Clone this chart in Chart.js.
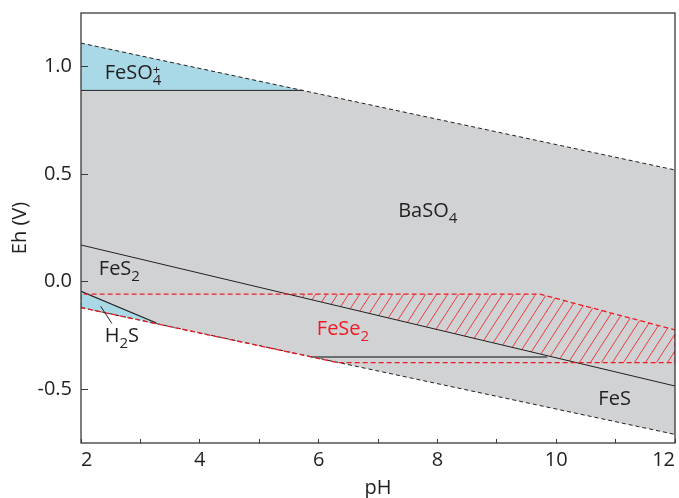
<!DOCTYPE html>
<html>
<head>
<meta charset="utf-8">
<script src="https://cdn.jsdelivr.net/npm/chart.js@4.4.1/dist/chart.umd.min.js"></script>
<style>
  html, body { margin: 0; padding: 0; background: #fff; }
  #wrap { width: 679px; height: 498px; }
</style>
</head>
<body>
<div id="wrap"><canvas id="canvasEh"></canvas></div>
<script>
// boundaries, [pH, Eh (V)]
const waterUpper = [[2, 1.11], [12, 0.52]];
const waterLower = [[2, -0.12], [12, -0.71]];
const feso4Line = [[2, 0.89], [5.73, 0.89]];
const fes2FesLine = [[2, 0.171], [12, -0.485]];
const h2sLine = [[2, -0.045], [3.27, -0.192]];
const fesLine = [[5.87, -0.35], [9.85, -0.35]];
const fese2Line = [[2, -0.12], [2, -0.058], [9.73, -0.058], [12, -0.224], [12, -0.376], [6.32, -0.376], [2, -0.12]];
const h2sLeader = [[2.33, -0.114], [2.52, -0.194]];

const baso4Area = [[2, 1.11], [12, 0.52], [12, -0.71], [2, -0.12]];
const feso4Area = [[2, 1.11], [5.73, 0.89], [2, 0.89]];
const h2sArea = [[2, -0.045], [3.27, -0.192], [2, -0.12]];
const fese2Hatch = [[5.49, -0.058], [9.73, -0.058], [12, -0.224], [12, -0.376], [10.34, -0.376]];

const phTicks = [2, 3, 4, 5, 6, 7, 8, 9, 10, 11, 12];
const ehTicks = [-0.5, 0, 0.5, 1.0];

const phaseNames = ["FeSO4+", "BaSO4", "FeS2", "H2S", "FeSe2", "FeS"];
const phasePH = [2.40, 7.34, 2.30, 2.40, 5.97, 10.71];
const phaseEh = [0.941, 0.303, 0.031, -0.282, -0.248, -0.573];
const phaseColors = ["#231f20", "#231f20", "#231f20", "#231f20", "#ed1c24", "#231f20"];

const FONT = "'Open Sans', sans-serif";
const INK = "#231f20";
Chart.defaults.font.family = FONT;
Chart.defaults.font.size = 20;
Chart.defaults.color = INK;

const pts = (arr) => arr.map(([x, y]) => ({x, y}));

const makeHatch = () => {
  const c = document.createElement("canvas");
  c.width = 11;
  c.height = 17;
  const g = c.getContext("2d");
  g.strokeStyle = "#ee3a3f";
  g.lineWidth = 1;
  g.beginPath();
  for (let k = -1; k <= 1; k++) {
    g.moveTo(k * 11, 17);
    g.lineTo(k * 11 + 11, 0);
  }
  g.stroke();
  return g.createPattern(c, "repeat");
}

// chemical formula: digits as subscripts, "+" stacked above the last subscript
const drawFormula = (ctx, text, px, py, color) => {
  ctx.fillStyle = color;
  ctx.textAlign = "left";
  ctx.textBaseline = "alphabetic";
  let cx = px;
  let subX = px;
  const runs = text.match(/[A-Za-z]+|\d|\+/g);
  for (const r of runs) {
    if (/\d/.test(r)) {
      ctx.font = "15px " + FONT;
      subX = cx;
      ctx.fillText(r, cx, py + 6);
      cx += ctx.measureText(r).width;
    } else if (r === "+") {
      ctx.font = "13px " + FONT;
      ctx.fillText(r, subX, py - 5);
    } else {
      ctx.font = "20px " + FONT;
      ctx.fillText(r, cx, py);
      cx += ctx.measureText(r).width;
    }
  }
}

const phasePlugin = {
  id: "phases",
  afterDatasetsDraw(chart) {
    const {ctx, chartArea: a, scales: {x, y}} = chart;
    ctx.save();
    ctx.strokeStyle = "#3a3a3a";
    ctx.lineWidth = 1.3;
    ctx.strokeRect(a.left, a.top, a.right - a.left, a.bottom - a.top);
    phaseNames.forEach((name, i) => {
      drawFormula(ctx, name, x.getPixelForValue(phasePH[i]), y.getPixelForValue(phaseEh[i]), phaseColors[i]);
    });
    ctx.restore();
  }
};

const line = (data, color, width, dash, order) => ({
  data: pts(data),
  borderColor: color,
  borderWidth: width,
  borderDash: dash,
  showLine: true,
  fill: false,
  order: order
});

const area = (data, color, order) => ({
  data: pts(data),
  borderColor: "rgba(0,0,0,0)",
  borderWidth: 0,
  backgroundColor: color,
  showLine: true,
  fill: "shape",
  order: order
});

const canvasEh = document.getElementById("canvasEh").getContext("2d");

const plotEh = new Chart(canvasEh, {
  type: "scatter",
  data: {
    datasets: [
      line(h2sLeader, INK, 1, [], 1),
      line(fese2Line, "#ed1c24", 1.3, [5, 3], 2),
      line(fesLine, "#6d6e71", 2, [], 3),
      line(h2sLine, INK, 1.2, [], 3),
      line(fes2FesLine, INK, 1, [], 3),
      line(feso4Line, INK, 1, [], 3),
      line(waterUpper, INK, 1, [4, 3], 4),
      line(waterLower, INK, 1, [4, 3], 4),
      area(fese2Hatch, makeHatch(), 7),
      area(h2sArea, "#a9d9e6", 8),
      area(feso4Area, "#a9d9e6", 8),
      area(baso4Area, "#d1d2d4", 9),
    ]
  },
  options: {
    animation: false,
    responsive: true,
    maintainAspectRatio: false,
    layout: { padding: { top: 13, right: 4, left: 0, bottom: 0 } },
    elements: { point: { radius: 0, hoverRadius: 0 }, line: { tension: 0 } },
    plugins: { legend: { display: false }, tooltip: { enabled: false } },
    scales: {
      x: {
        type: "linear",
        min: 2,
        max: 12,
        afterBuildTicks: (s) => { s.ticks = phTicks.map(v => ({value: v})); },
        afterFit: (s) => { s.height = 55; s.paddingLeft = 0; s.paddingRight = 0; },
        ticks: {
          autoSkip: false,
          maxRotation: 0,
          align: "inner",
          padding: 9,
          callback: (v) => (v % 2 === 0 ? String(v) : "")
        },
        grid: { drawOnChartArea: false, drawTicks: true, tickLength: -4, color: "#3a3a3a", lineWidth: 1, z: 1 },
        border: { display: false },
        title: { display: true, text: "pH", font: { size: 20, lineHeight: 1 }, padding: { top: 0, bottom: 0 } }
      },
      y: {
        type: "linear",
        min: -0.75,
        max: 1.25,
        afterBuildTicks: (s) => { s.ticks = ehTicks.map(v => ({value: v})); },
        afterFit: (s) => { s.width = 81; s.paddingTop = 0; s.paddingBottom = 0; },
        ticks: {
          padding: 16,
          callback: (v) => v.toFixed(1)
        },
        grid: { drawOnChartArea: false, drawTicks: true, tickLength: -7, color: "#3a3a3a", lineWidth: 1, z: 1 },
        border: { display: false },
        title: { display: true, text: "Eh (V)", font: { size: 20, lineHeight: 1 }, padding: { top: 10, bottom: 0 } }
      }
    }
  },
  plugins: [phasePlugin]
});
</script>
</body>
</html>
